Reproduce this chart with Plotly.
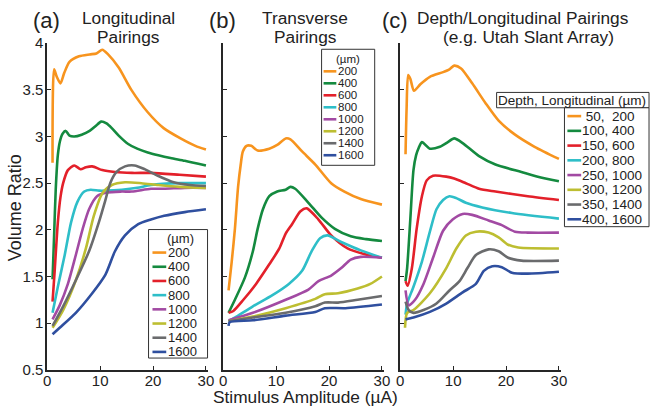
import plotly.graph_objects as go

W, H = 657, 414
FONT = "Liberation Sans, Arial, sans-serif"

# ---------------- data ----------------
colors = ["#F7941E", "#148A3F", "#E3202A", "#2EBEC8", "#A24AA3", "#BDBE31", "#6A6B6D", "#2F4F9F"]
spacing_labels = ["200", "400", "600", "800", "1000", "1200", "1400", "1600"]
depth_labels = ["\u00a050,\u00a0\u00a0200", "100, 400", "150, 600", "200, 800",
                "250, 1000", "300, 1200", "350, 1400", "400, 1600"]

# Panel (a) Longitudinal pairings
a_x = [
    [1, 1.3, 1.8, 2.5, 3.2, 4.2, 6, 8, 9.3, 10.4, 11.5, 13.5, 15.9, 19, 22, 25.2, 28, 30],
    [1, 1.3, 1.6, 2.0, 2.4, 2.9, 3.5, 4.2, 5.1, 6.5, 8, 9.1, 10.2, 11.2, 12.2, 13.5, 15.3, 17, 19, 21, 23.3, 26, 30],
    [1, 1.4, 2.0, 2.5, 3.0, 3.9, 5.1, 6.3, 7.3, 8.5, 10.4, 12.8, 16, 19.6, 25, 30],
    [1, 2, 3.3, 4.5, 5.7, 7, 8.2, 9.8, 11, 14.1, 17, 19.6, 25, 30],
    [1, 2.35, 3.9, 5.4, 6.7, 7.9, 9.4, 11.3, 14.1, 16, 19.6, 22, 26, 30],
    [1, 3, 5.4, 7.3, 8.8, 10.4, 12.2, 14.7, 17.8, 21, 25, 30],
    [1, 3, 5.4, 7.9, 9.75, 11, 11.9, 13.1, 14.7, 16.5, 18.4, 20.9, 23.9, 27, 30],
    [1, 2.35, 5.4, 8.5, 11, 12.8, 14.7, 17.2, 19.6, 22.1, 26, 30],
]
a_y = [
    [2.72, 3.72, 3.64, 3.57, 3.68, 3.8, 3.86, 3.88, 3.89, 3.93, 3.88, 3.74, 3.5, 3.26, 3.09, 2.98, 2.9, 2.86],
    [1.47, 1.95, 2.43, 2.8, 2.95, 3.03, 3.06, 3.01, 3.0, 3.02, 3.06, 3.11, 3.16, 3.14, 3.09, 3.01, 2.92, 2.87, 2.83, 2.8, 2.77, 2.74, 2.69],
    [1.23, 1.56, 2.08, 2.35, 2.5, 2.64, 2.69, 2.65, 2.67, 2.68, 2.64, 2.62, 2.61, 2.61, 2.59, 2.57],
    [1.11, 1.39, 1.73, 2.08, 2.3, 2.41, 2.43, 2.42, 2.42, 2.43, 2.45, 2.48, 2.5, 2.5],
    [1.04, 1.19, 1.42, 1.73, 2.01, 2.22, 2.36, 2.4, 2.41, 2.41, 2.44, 2.44, 2.45, 2.45],
    [0.95, 1.14, 1.46, 1.8, 2.15, 2.39, 2.48, 2.51, 2.5, 2.48, 2.46, 2.45],
    [0.97, 1.18, 1.46, 1.77, 2.08, 2.32, 2.5, 2.62, 2.68, 2.69, 2.65, 2.58, 2.51, 2.48, 2.47],
    [0.88, 0.95, 1.11, 1.32, 1.52, 1.77, 1.94, 2.06, 2.11, 2.15, 2.19, 2.22],
]

# Panel (b) Transverse pairings
b_x = [
    [1, 1.6, 2.2, 2.8, 3.3, 3.7, 4.4, 5.3, 6.5, 8.7, 10.2, 11.8, 12.7, 14.9, 17.4, 20.4, 22.9, 26, 30],
    [1, 2.2, 4.1, 5.6, 6.5, 7.5, 8.7, 10.2, 11.8, 12.7, 13.6, 16.1, 18.6, 21.1, 24.1, 27, 30],
    [1, 1.9, 3.8, 6.2, 8.7, 10.6, 11.8, 13, 14.6, 15.8, 18, 20.4, 23.5, 26.6, 30],
    [1, 2.5, 5.6, 9.3, 12.4, 14.9, 16.7, 18.3, 19.7, 22.3, 26, 30],
    [1, 5.6, 11.8, 16.1, 18, 20.4, 22.3, 24.1, 26, 30],
    [1, 5.6, 11.8, 17.4, 19.2, 21.7, 25.4, 27.8, 30],
    [1, 5.6, 11.8, 17.4, 19.2, 21.7, 25.4, 30],
    [1, 1.2, 5.6, 11.8, 17.4, 19.2, 23.1, 30],
]
b_y = [
    [1.35, 1.66, 2.01, 2.46, 2.7, 2.84, 2.9, 2.9, 2.85, 2.87, 2.91, 2.98, 2.97, 2.84, 2.7, 2.5, 2.41, 2.33, 2.27],
    [1.11, 1.25, 1.49, 1.77, 2.01, 2.22, 2.36, 2.41, 2.43, 2.46, 2.44, 2.29, 2.13, 2.01, 1.93, 1.9, 1.88],
    [1.11, 1.13, 1.25, 1.42, 1.63, 1.8, 1.96, 2.06, 2.2, 2.23, 2.11, 1.94, 1.8, 1.74, 1.7],
    [1.02, 1.07, 1.18, 1.3, 1.42, 1.56, 1.77, 1.91, 1.94, 1.87, 1.78, 1.7],
    [1.03, 1.11, 1.25, 1.36, 1.45, 1.51, 1.59, 1.68, 1.71, 1.7],
    [1.02, 1.07, 1.16, 1.26, 1.31, 1.32, 1.37, 1.42, 1.5],
    [1.02, 1.06, 1.11, 1.18, 1.22, 1.22, 1.25, 1.29],
    [0.97, 1.01, 1.03, 1.08, 1.12, 1.16, 1.16, 1.2],
]

# Panel (c) Depth/Longitudinal pairings
c_x = [
    [1, 1.2, 1.5, 1.9, 2.6, 3.8, 5.6, 8.1, 9.3, 10.2, 11.5, 13.6, 16.1, 18.6, 21.7, 25.4, 30],
    [1, 1.3, 1.9, 2.5, 3.0, 3.5, 4.1, 5.6, 7.5, 9.0, 10.2, 11.8, 14.9, 18, 22.9, 26, 30],
    [1, 1.4, 2.2, 3.1, 4.1, 5.0, 6.2, 8.7, 10.2, 12.4, 14.9, 18, 24.1, 30],
    [1, 1.3, 2.5, 4.1, 5.6, 6.85, 8.1, 9.3, 10.6, 12.4, 15.5, 21.1, 30],
    [1, 1.6, 2.8, 4.4, 6.2, 8.1, 9.9, 11.8, 13.6, 16.7, 19.2, 21.7, 24.1, 30],
    [0.9, 1.3, 2.5, 5.6, 8.7, 10.6, 12.4, 14.3, 16.7, 18.6, 20.4, 22.3, 30],
    [1, 1.6, 2.5, 4.4, 6.85, 9.3, 11.2, 12.7, 14.3, 16.7, 18.6, 20.4, 22.9, 30],
    [1, 2.5, 5.6, 8.7, 11.8, 14.3, 15.8, 17.4, 19.2, 21.1, 24.1, 30],
]
c_y = [
    [2.81, 3.3, 3.66, 3.62, 3.49, 3.56, 3.64, 3.69, 3.72, 3.76, 3.73, 3.57, 3.36, 3.17, 3.02, 2.89, 2.76],
    [1.45, 1.59, 2.11, 2.64, 2.8, 2.88, 2.94, 2.87, 2.89, 2.94, 2.98, 2.93, 2.79, 2.7, 2.62, 2.57, 2.52],
    [1.45, 1.4, 1.59, 2.01, 2.36, 2.53, 2.58, 2.57, 2.55, 2.5, 2.44, 2.41, 2.36, 2.32],
    [1.09, 1.21, 1.39, 1.66, 1.98, 2.22, 2.32, 2.36, 2.34, 2.29, 2.24, 2.18, 2.12],
    [1.35, 1.19, 1.25, 1.42, 1.7, 1.99, 2.11, 2.17, 2.16, 2.1, 2.05, 1.98, 1.97, 1.97],
    [0.95, 1.11, 1.14, 1.32, 1.59, 1.8, 1.94, 1.98, 1.97, 1.92, 1.84, 1.81, 1.8],
    [1.23, 1.14, 1.11, 1.14, 1.21, 1.35, 1.45, 1.59, 1.73, 1.79, 1.77, 1.7, 1.67, 1.67],
    [1.04, 1.06, 1.12, 1.21, 1.33, 1.42, 1.56, 1.61, 1.6, 1.54, 1.53, 1.55],
]

x_ticks = [0, 10, 20, 30]
y_ticks = [0.5, 1, 1.5, 2, 2.5, 3, 3.5, 4]

# ---------------- layout helpers ----------------
def px(x):
    return x / W

def py(y):
    return 1 - y / H

panel_px = [(44, 207), (223, 386), (403, 566)]
y_dom = [py(376.2), py(35.7)]

fig = go.Figure()
panels = [(a_x, a_y), (b_x, b_y), (c_x, c_y)]
for p, (xs, ys) in enumerate(panels):
    suffix = "" if p == 0 else str(p + 1)
    for i in range(8):
        fig.add_trace(go.Scatter(
            x=xs[i], y=ys[i], mode="lines",
            line=dict(color=colors[i], width=2.6, shape="spline", smoothing=0.7),
            xaxis="x" + suffix, yaxis="y" + suffix, showlegend=False,
            hoverinfo="skip"))

axis_common = dict(showgrid=False, zeroline=False, showline=True, linecolor="#262626",
                   linewidth=1.7, ticks="inside", ticklen=4, tickwidth=1.2, tickcolor="#262626",
                   tickfont=dict(family=FONT, size=15, color="#222"))
layout = dict(width=W, height=H, margin=dict(l=0, r=0, t=0, b=0),
              paper_bgcolor="white", plot_bgcolor="white", showlegend=False)
for p in range(3):
    suffix = "" if p == 0 else str(p + 1)
    x0, x1 = panel_px[p]
    layout["xaxis" + suffix] = dict(axis_common, domain=[px(x0), px(x1)], range=[0, 30.3],
                                    tickvals=x_ticks, anchor="y" + suffix,
                                    ticklabelstandoff=-4)
    layout["yaxis" + suffix] = dict(axis_common, domain=y_dom, range=[0.5, 4],
                                    tickvals=y_ticks, anchor="x" + suffix,
                                    showticklabels=(p == 0), ticklabelstandoff=-1)
fig.update_layout(**layout)

ann = []
shapes = []

def text(x, y, s, size, xanchor="center", textangle=0):
    ann.append(dict(x=px(x), y=py(y), xref="paper", yref="paper", text=s, showarrow=False,
                    xanchor=xanchor, yanchor="middle", textangle=textangle, borderpad=0,
                    font=dict(family=FONT, size=size, color="#222")))

# panel letters & titles
text(43, 12, "(a)", 22)
text(222, 12, "(b)", 22)
text(398, 12, "(c)", 22)
text(127, 9, "Longitudinal", 17.3)
text(127, 29, "Pairings", 17.3)
text(306, 9, "Transverse", 17.3)
text(307, 29, "Pairings", 17.3)
text(528, 9, "Depth/Longitudinal Pairings", 17.3)
text(533, 29, "(e.g. Utah Slant Array)", 17.3)
# axis titles
text(307, 404.5, "Stimulus Amplitude (\u00b5A)", 17.3)
text(11, 207, "Volume Ratio", 18)

ann[-1]["textangle"] = -90

def box(x0, y0, x1, y1):
    shapes.append(dict(type="rect", xref="paper", yref="paper", x0=px(x0), x1=px(x1),
                       y0=py(y1), y1=py(y0), line=dict(color="#333", width=1),
                       fillcolor="white", layer="above"))

def legend_rows(sw0, sw1, tx, y_first, dy, labels, size):
    for i, lab in enumerate(labels):
        yy = y_first + dy * i
        shapes.append(dict(type="line", xref="paper", yref="paper", x0=px(sw0), x1=px(sw1),
                           y0=py(yy), y1=py(yy), line=dict(color=colors[i], width=2.6),
                           layer="above"))
        text(tx, yy, lab, size, xanchor="left")

# legend (a)
box(147, 230, 207, 364)
text(179, 239, "(\u00b5m)", 13)
legend_rows(151, 165, 166, 254, 14.8, spacing_labels, 13)
# legend (b)
box(323, 42, 377, 163)
text(350, 52, "(\u00b5m)", 11.5)
legend_rows(325, 338, 339, 65, 12.5, spacing_labels, 11.5)
# legend (c)
box(501, 87, 656, 103)
text(578, 95, "Depth, Longitudinal (\u00b5m)", 13.5)
box(570, 103, 656, 227)
legend_rows(573, 587, 587, 111.7, 15.37, depth_labels, 13.5)

fig.update_layout(annotations=ann, shapes=shapes)
fig.write_html("out.html", config={"displayModeBar": False},
               post_script="document.body.style.margin='0';")
